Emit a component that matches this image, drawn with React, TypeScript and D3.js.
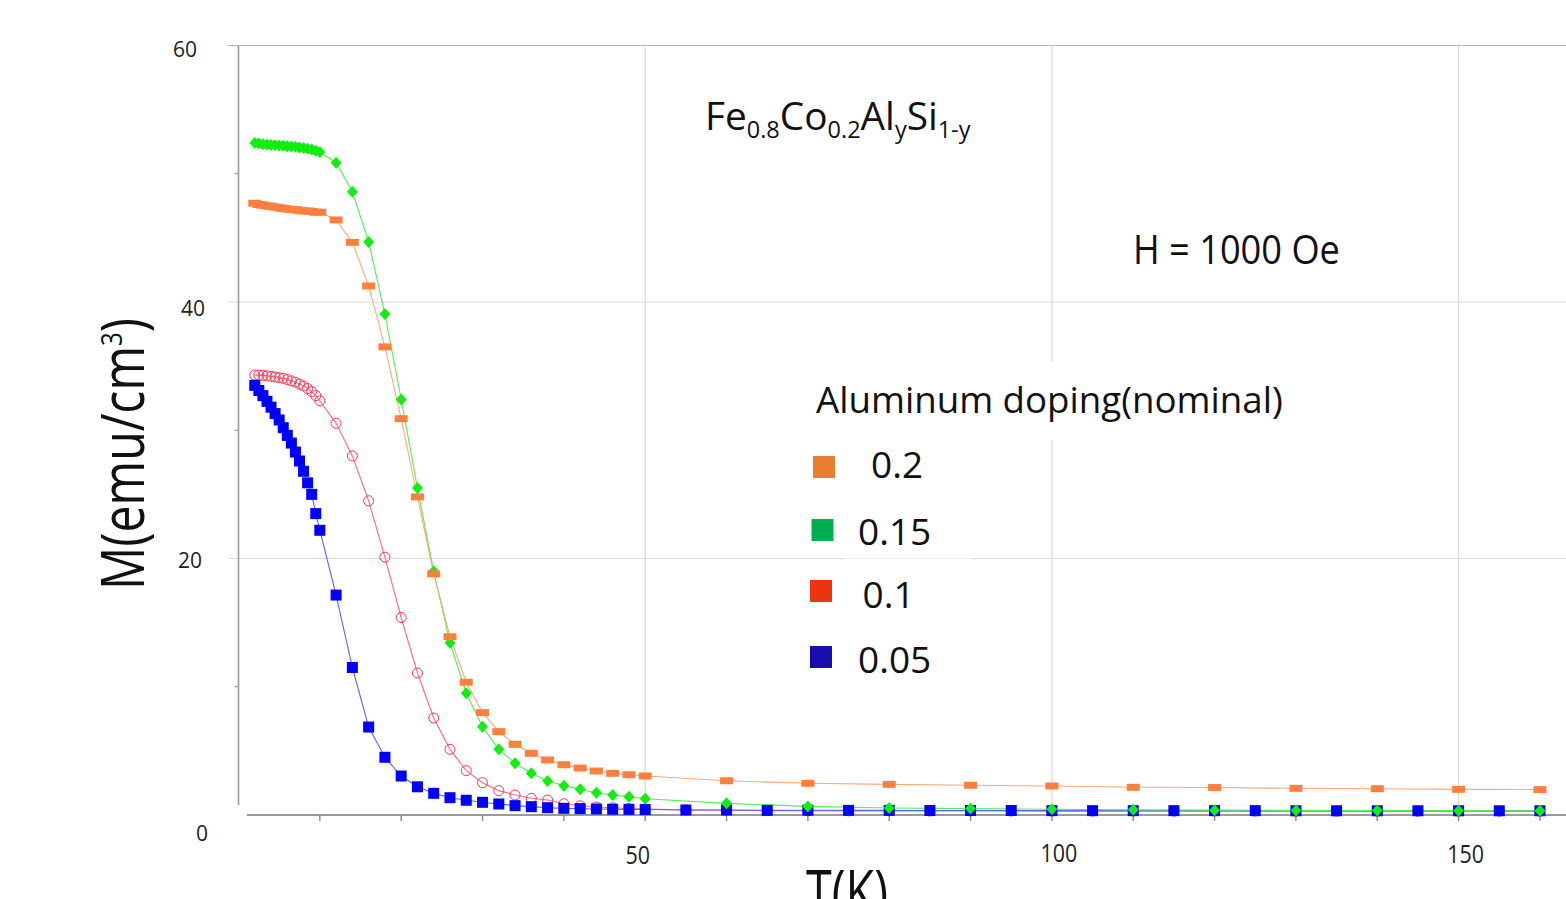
import React, { useEffect, useRef } from 'react';
import * as d3 from 'd3';

const WIDTH = 1566;
const HEIGHT = 899;

// temperature grids (K)
const T_LOW = [2, 2.5, 3, 3.5, 4, 4.5, 5, 5.5, 6, 6.5, 7, 7.5, 8, 8.5, 9, 9.5, 10];
const T_MID = [12, 14, 16, 18, 20, 22, 24, 26, 28, 30, 32, 34, 36, 38, 40, 42, 44, 46, 48, 50];
const T_TAIL_10 = [60, 70, 80, 90, 100, 110, 120, 130, 140, 150, 160];
const T_TAIL_5 = [55, 60, 65, 70, 75, 80, 85, 90, 95, 100, 105, 110, 115, 120, 125, 130, 135, 140, 145, 150, 155, 160];

// M (emu/cm3), y = 0.2
const M_020_LOW = [47.7, 47.6, 47.55, 47.5, 47.45, 47.4, 47.35, 47.3, 47.25, 47.2, 47.2, 47.15, 47.1, 47.1, 47.05, 47.0, 47.0];
const M_020_MID = [46.4, 44.65, 41.25, 36.5, 30.9, 24.8, 18.8, 13.9, 10.35, 7.98, 6.5, 5.51, 4.81, 4.29, 3.92, 3.66, 3.43, 3.25, 3.14, 3.04];
const M_020_TAIL = [2.67, 2.47, 2.39, 2.32, 2.26, 2.16, 2.14, 2.08, 2.05, 2.0, 1.98];

// y = 0.15
const M_015_LOW = [52.4, 52.35, 52.3, 52.28, 52.25, 52.22, 52.2, 52.18, 52.15, 52.12, 52.1, 52.05, 52.0, 51.95, 51.9, 51.8, 51.7];
const M_015_MID = [50.86, 48.6, 44.68, 39.06, 32.4, 25.5, 19.0, 13.43, 9.49, 6.89, 5.12, 4.03, 3.25, 2.65, 2.29, 2.0, 1.74, 1.56, 1.43, 1.27];
const M_015_TAIL = [0.91, 0.67, 0.55, 0.5, 0.45, 0.4, 0.38, 0.36, 0.35, 0.34, 0.33];

// y = 0.1
const M_010_LOW = [34.3, 34.3, 34.28, 34.25, 34.2, 34.15, 34.1, 34.05, 33.95, 33.85, 33.75, 33.6, 33.45, 33.25, 33.0, 32.7, 32.3];
const M_010_MID = [30.54, 28.0, 24.5, 20.1, 15.4, 11.07, 7.56, 5.12, 3.46, 2.52, 1.9, 1.56, 1.3, 1.17, 0.88, 0.72, 0.62, 0.56, 0.51, 0.47];
const M_010_TAIL = [0.4, 0.37, 0.34, 0.33, 0.32, 0.32, 0.31, 0.31, 0.31, 0.3, 0.3, 0.3, 0.3, 0.3, 0.3, 0.29, 0.29, 0.29, 0.29, 0.29, 0.29, 0.29];

// y = 0.05
const M_005_LOW = [33.5, 33.1, 32.7, 32.25, 31.8, 31.3, 30.8, 30.2, 29.6, 29.0, 28.3, 27.6, 26.8, 25.9, 25.0, 23.5, 22.2];
const M_005_MID = [17.15, 11.5, 6.86, 4.5, 3.04, 2.2, 1.69, 1.35, 1.15, 0.99, 0.86, 0.73, 0.65, 0.57, 0.52, 0.5, 0.47, 0.45, 0.44, 0.43];
const M_005_TAIL = [0.39, 0.39, 0.36, 0.37, 0.36, 0.36, 0.35, 0.35, 0.35, 0.34, 0.34, 0.34, 0.34, 0.34, 0.34, 0.33, 0.33, 0.33, 0.33, 0.33, 0.33, 0.33];

const LEGEND_LABELS = ['0.2', '0.15', '0.1', '0.05'];
const LEGEND_COLORS = ['#ED7D31', '#00B050', '#EE3311', '#1A0DB0'];

const Y_TICKS = [0, 20, 40, 60];
const Y_MINOR = [10, 30, 50];
const X_TICKS = [50, 100, 150];
const X_MINOR = [10, 20, 30, 40, 50, 60, 70, 80, 90, 100, 110, 120, 130, 140, 150, 160];

const FONT = "'Open Sans', 'Noto Sans', sans-serif";

type Pt = { t: number; m: number };
const zip = (t: number[], m: number[]): Pt[] => t.map((v, i) => ({ t: v, m: m[i] }));

const App = () => {
  const svgRef = useRef<SVGSVGElement>(null);

  useEffect(() => {
    const svg = d3.select(svgRef.current);
    svg.selectAll('*').remove();

    const x = d3.scaleLinear().domain([0, 150]).range([238.5, 1458.6]);
    const y = d3.scaleLinear().domain([0, 60]).range([815, 45.5]);

    // squeeze a text node horizontally so it spans the given width
    const fitTo = (sel: any, w: number) => {
      const bb = (sel.node() as SVGTextElement).getBBox();
      return w / bb.width;
    };

    // grid
    const grid = svg.append('g');
    [20, 40, 60].forEach(v => {
      grid.append('line')
        .attr('x1', 228).attr('x2', WIDTH)
        .attr('y1', y(v)).attr('y2', y(v))
        .attr('stroke', v === 60 ? '#b4b4b4' : '#dadada')
        .attr('stroke-width', 1.2);
    });
    X_TICKS.forEach(v => {
      grid.append('line')
        .attr('x1', x(v)).attr('x2', x(v))
        .attr('y1', y(60)).attr('y2', 815)
        .attr('stroke', '#dadada').attr('stroke-width', 1.2);
    });
    // lighter patch on the 20 gridline behind "0.15"
    grid.append('rect').attr('x', 843).attr('y', y(20) - 2).attr('width', 130).attr('height', 4)
      .attr('fill', '#fff').attr('opacity', 0.6);

    // axes
    const axes = svg.append('g');
    axes.append('line')
      .attr('x1', x(0)).attr('x2', x(0)).attr('y1', y(60)).attr('y2', 805)
      .attr('stroke', '#9a9a9a').attr('stroke-width', 1.6);
    Y_MINOR.forEach(v => {
      axes.append('line').attr('x1', x(0) - 4).attr('x2', x(0)).attr('y1', y(v)).attr('y2', y(v))
        .attr('stroke', '#9a9a9a').attr('stroke-width', 1.2);
    });
    axes.append('line')
      .attr('x1', 247).attr('x2', WIDTH).attr('y1', 815).attr('y2', 815)
      .attr('stroke', '#9a9a9a').attr('stroke-width', 2);
    X_MINOR.forEach(v => {
      axes.append('line').attr('x1', x(v)).attr('x2', x(v)).attr('y1', 815).attr('y2', 821)
        .attr('stroke', '#888').attr('stroke-width', 1.4);
    });

    // tick labels (pasted labels sit slightly off the ticks)
    const yLabelRight: Record<number, number> = { 0: 208, 20: 202, 40: 205, 60: 197 };
    const yLabelDy: Record<number, number> = { 0: 18, 20: 1.5, 40: 6.5, 60: 3.5 };
    Y_TICKS.forEach(v => {
      axes.append('text')
        .attr('x', yLabelRight[v]).attr('y', y(v) + yLabelDy[v])
        .attr('dy', '0.36em')
        .attr('text-anchor', 'end')
        .attr('font-family', FONT).attr('font-size', 21).attr('fill', '#222')
        .text(v);
    });
    const xLabelDx: Record<number, number> = { 50: -7.5, 100: 7, 150: 7 };
    const xLabelCy: Record<number, number> = { 50: 855, 100: 853, 150: 854 };
    X_TICKS.forEach(v => {
      axes.append('text')
        .attr('transform', `translate(${x(v) + xLabelDx[v]},${xLabelCy[v]}) scale(0.86,1)`)
        .attr('dy', '0.36em')
        .attr('text-anchor', 'middle')
        .attr('font-family', FONT).attr('font-size', 25).attr('fill', '#222')
        .text(v);
    });

    // axis titles
    const yTitle = svg.append('text')
      .attr('text-anchor', 'middle')
      .attr('font-family', FONT).attr('font-size', 60).attr('fill', '#111');
    yTitle.append('tspan').text('M(emu/cm');
    yTitle.append('tspan').attr('font-size', 30).attr('dy', -22).text('3');
    yTitle.append('tspan').attr('dy', 22).text(')');
    const sy = fitTo(yTitle, 272);
    yTitle.attr('transform', `translate(144,454) rotate(-90) scale(${sy},1)`);

    // the reference crops this title at the bottom edge
    const xTitle = svg.append('text')
      .attr('text-anchor', 'middle')
      .attr('font-family', FONT).attr('font-size', 60).attr('fill', '#111')
      .text('T(K)');
    const sx = fitTo(xTitle, 82);
    xTitle.attr('transform', `translate(847,913) scale(${sx},1)`);

    // series, drawn bottom to top
    const series = [
      { key: '0.1', pts: zip([...T_LOW, ...T_MID, ...T_TAIL_5], [...M_010_LOW, ...M_010_MID, ...M_010_TAIL]), line: '#ff6680', marker: 'circle', color: '#ff3355' },
      { key: '0.05', pts: zip([...T_LOW, ...T_MID, ...T_TAIL_5], [...M_005_LOW, ...M_005_MID, ...M_005_TAIL]), line: '#6060ff', marker: 'square', color: '#0000ff' },
      { key: '0.15', pts: zip([...T_LOW, ...T_MID, ...T_TAIL_10], [...M_015_LOW, ...M_015_MID, ...M_015_TAIL]), line: '#55ee55', marker: 'diamond', color: '#11ee11' },
      { key: '0.2', pts: zip([...T_LOW, ...T_MID, ...T_TAIL_10], [...M_020_LOW, ...M_020_MID, ...M_020_TAIL]), line: '#ffa87a', marker: 'bar', color: '#ff7f3f' },
    ];

    const line = d3.line<Pt>().x(d => x(d.t)).y(d => y(d.m));
    const plot = svg.append('g');
    series.forEach(s => {
      plot.append('path')
        .datum(s.pts)
        .attr('d', line)
        .attr('fill', 'none')
        .attr('stroke', s.line)
        .attr('stroke-width', 1.1);
    });
    series.forEach(s => {
      const g = plot.append('g');
      s.pts.forEach(d => {
        const cx = x(d.t), cy = y(d.m);
        if (s.marker === 'circle') {
          g.append('circle').attr('cx', cx).attr('cy', cy).attr('r', 5)
            .attr('fill', 'none').attr('stroke', s.color).attr('stroke-width', 1);
        } else if (s.marker === 'square') {
          g.append('rect').attr('x', cx - 5.5).attr('y', cy - 5.5).attr('width', 11).attr('height', 11)
            .attr('fill', s.color);
        } else if (s.marker === 'diamond') {
          g.append('path')
            .attr('d', `M${cx},${cy - 6}L${cx + 5.5},${cy}L${cx},${cy + 6}L${cx - 5.5},${cy}Z`)
            .attr('fill', s.color);
        } else {
          g.append('rect').attr('x', cx - 6.5).attr('y', cy - 3.5).attr('width', 13).attr('height', 7)
            .attr('fill', s.color);
        }
      });
    });

    // annotations
    const formula = svg.append('text')
      .attr('font-family', FONT).attr('font-size', 38).attr('fill', '#111');
    const parts: [string, boolean][] = [['Fe', false], ['0.8', true], ['Co', false], ['0.2', true], ['Al', false], ['y', true], ['Si', false], ['1-y', true]];
    let sub = false;
    parts.forEach(([txt, isSub]) => {
      const ts = formula.append('tspan').text(txt);
      if (isSub) ts.attr('font-size', 23);
      if (isSub !== sub) ts.attr('dy', isSub ? 7.5 : -7.5);
      sub = isSub;
    });
    const sf = fitTo(formula, 266);
    formula.attr('transform', `translate(705,130) scale(${sf},1)`);

    const field = svg.append('text')
      .attr('font-family', FONT).attr('font-size', 40).attr('fill', '#111')
      .text('H = 1000 Oe');
    const sh = fitTo(field, 207);
    field.attr('transform', `translate(1133,264) scale(${sh},1)`);

    // legend
    const legend = svg.append('g');
    legend.append('rect').attr('x', 800).attr('y', 362).attr('width', 495).attr('height', 78).attr('fill', '#fff');
    const lt = legend.append('text')
      .attr('font-family', FONT).attr('font-size', 37).attr('fill', '#111')
      .text('Aluminum doping(nominal)');
    const sl = fitTo(lt, 467);
    lt.attr('transform', `translate(816,413) scale(${sl},1)`);

    const swatchX = [813, 811.5, 810, 810];
    const swatchY = [456, 519, 580, 646];
    const labelX = [871, 858, 862.5, 858];
    const labelY = [478, 545, 608, 673];
    LEGEND_LABELS.forEach((lab, i) => {
      legend.append('rect')
        .attr('x', swatchX[i]).attr('y', swatchY[i]).attr('width', 22).attr('height', 22)
        .attr('fill', LEGEND_COLORS[i]);
      legend.append('text')
        .attr('x', labelX[i]).attr('y', labelY[i])
        .attr('font-family', FONT).attr('font-size', 37).attr('fill', '#111')
        .text(lab);
    });
  }, []);

  return (
    <svg
      ref={svgRef}
      width={WIDTH}
      height={HEIGHT}
      style={{ position: 'absolute', left: 0, top: 0, background: '#fff' }}
    />
  );
};

export default App;
